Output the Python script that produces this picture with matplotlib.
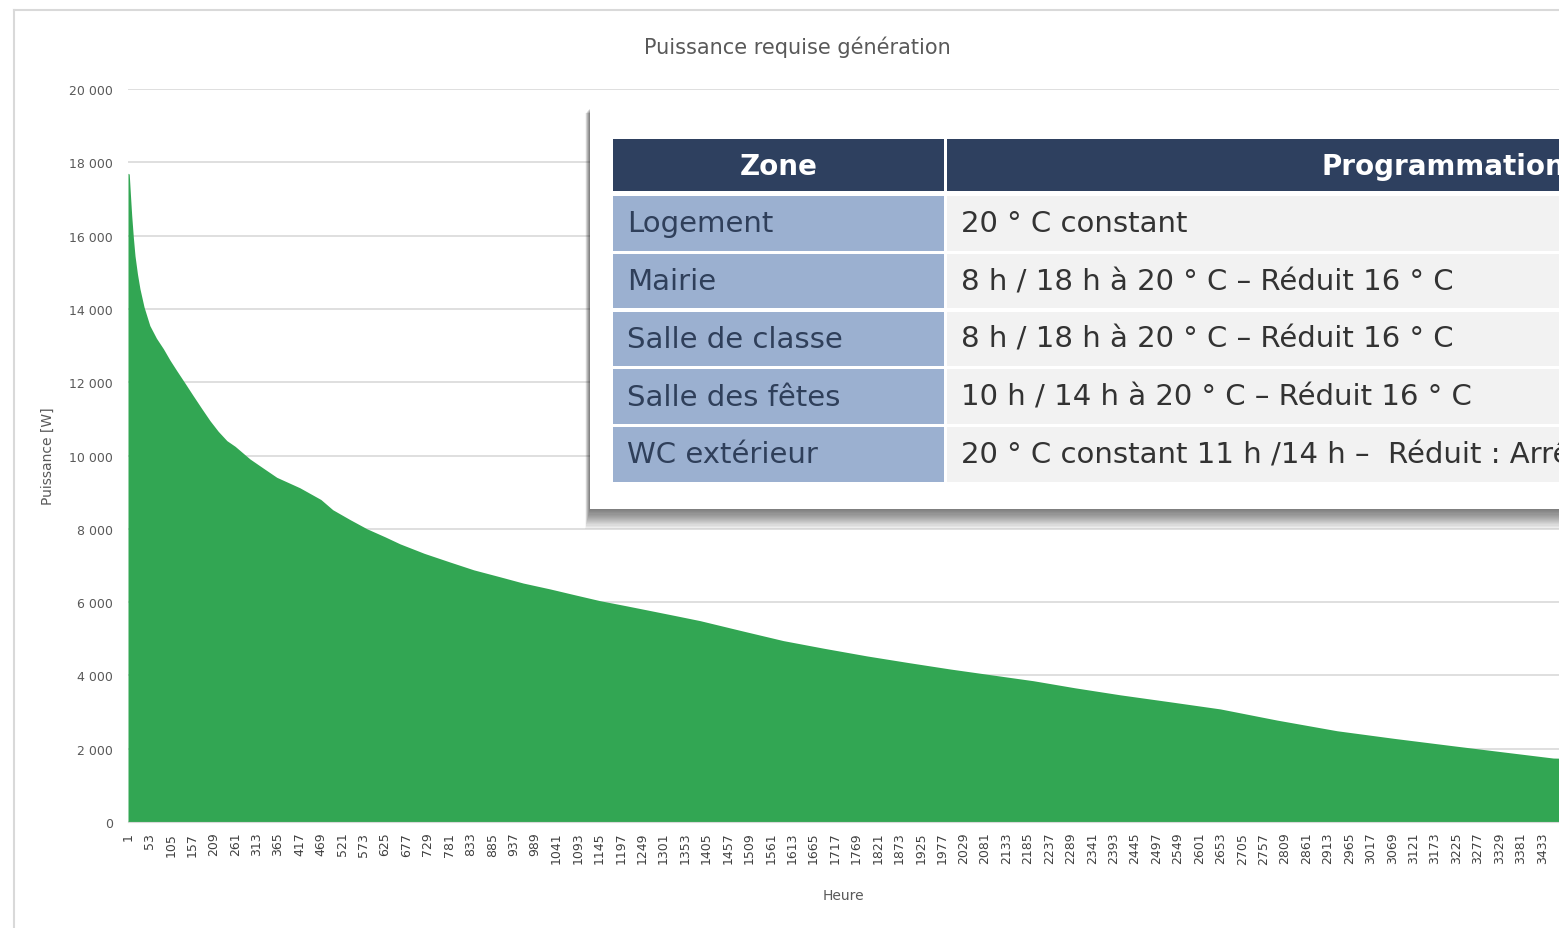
import matplotlib.pyplot as plt
from matplotlib.patches import Rectangle

# Load duration curve (hour rank -> W)
hours = [1, 4, 7, 10, 14, 18, 24, 30, 40, 54, 70, 87, 103, 119, 139, 159, 180,
         200, 220, 241, 261, 297, 330, 362, 418, 469, 498, 540, 581, 625, 661,
         720, 782, 840, 904, 960, 1025, 1085, 1146, 1210, 1268, 1330, 1389,
         1490, 1591, 1690, 1795, 1895, 1996, 2100, 2198, 2300, 2409, 2530,
         2652, 2790, 2935, 3075, 3217, 3340, 3460, 3480]
power = [17700, 17680, 17100, 16550, 15950, 15450, 14950, 14550, 14050, 13545,
         13200, 12910, 12600, 12320, 11980, 11635, 11280, 10950, 10660, 10405,
         10250, 9905, 9650, 9405, 9120, 8800, 8520, 8250, 8000, 7780, 7590,
         7330, 7095, 6880, 6690, 6520, 6360, 6200, 6040, 5900, 5770, 5630,
         5495, 5220, 4950, 4740, 4530, 4350, 4175, 4010, 3855, 3660, 3470,
         3280, 3085, 2780, 2490, 2280, 2080, 1910, 1745, 1740]

x_ticks = list(range(1, 3434, 52))
y_ticks = [0, 2000, 4000, 6000, 8000, 10000, 12000, 14000, 16000, 18000, 20000]

# table overlaid on the chart
zones = ["Logement", "Mairie", "Salle de classe", "Salle des fêtes", "WC extérieur"]
programmes = ["20 ° C constant",
              "8 h / 18 h à 20 ° C – Réduit 16 ° C",
              "8 h / 18 h à 20 ° C – Réduit 16 ° C",
              "10 h / 14 h à 20 ° C – Réduit 16 ° C",
              "20 ° C constant 11 h /14 h –  Réduit : Arrêt"]

W, H = 1559, 929
fig = plt.figure(figsize=(W / 100, H / 100), dpi=100)
fig.patch.set_facecolor("white")

grey = "#595959"
green = "#32a653"

ax = fig.add_axes([128 / W, 1 - 823 / H, 1 - 128 / W, (823 - 90) / H])
ax.fill_between(hours, power, 0, color=green, lw=0, zorder=2)
ax.set_xlim(1, 3474)
ax.set_ylim(0, 20000)
ax.set_yticks(y_ticks)
ax.set_yticklabels([f"{v:,}".replace(",", " ") for v in y_ticks], fontsize=9, color=grey)
ax.set_xticks(x_ticks)
ax.set_xticklabels([str(t) for t in x_ticks], rotation=90, fontsize=9, color="#404040")
ax.tick_params(axis="both", length=0)
ax.tick_params(axis="y", pad=11)
ax.tick_params(axis="x", pad=7)
ax.grid(axis="y", color="#d9d9d9", lw=1.2, zorder=1)
ax.set_axisbelow(True)
for s in ["top", "right", "left"]:
    ax.spines[s].set_visible(False)
ax.spines["bottom"].set_color("#d9d9d9")
ax.set_ylabel("Puissance [W]", fontsize=10, color=grey)
ax.yaxis.set_label_coords(-(128 - 55) / (W - 128), 0.5)
ax.set_xlabel("Heure", fontsize=10, color=grey)
ax.xaxis.set_label_coords((843 - 128) / (W - 128), -(889 - 823) / (823 - 90))
fig.text(797 / W, 1 - 47 / H, "Puissance requise génération", fontsize=15,
         color=grey, ha="center", va="center")

# overlay in pixel coordinates for frame and table
ov = fig.add_axes([0, 0, 1, 1], zorder=5)
ov.set_xlim(0, W)
ov.set_ylim(H, 0)
ov.axis("off")
ov.patch.set_alpha(0)

ov.plot([14, 14], [11, H + 10], color="#d9d9d9", lw=1.5)
ov.plot([14, W + 10], [11, 11], color="#d9d9d9", lw=1.5)

# soft box shadow
bx0, by0, by1 = 590, 105, 510
for i in range(1, 19):
    ov.add_patch(Rectangle((bx0 - i * 0.25, by0 + 4 + i * 0.3), 2000, by1 - by0 - 4 + i * 0.8,
                           facecolor="black", alpha=0.035, lw=0))
ov.add_patch(Rectangle((bx0, by0), 2000, by1 - by0, facecolor="white", lw=0))

navy = "#2e405f"
c1x0, c1x1, c2x0, c2x1 = 613, 944, 947, 1971
ov.add_patch(Rectangle((c1x0, 140), c1x1 - c1x0, 52, facecolor=navy, lw=0))
ov.add_patch(Rectangle((c2x0, 140), c2x1 - c2x0, 52, facecolor=navy, lw=0))
ov.text((c1x0 + c1x1) / 2, 167, "Zone", color="white", fontsize=20, fontweight="bold",
        ha="center", va="center")
ov.text(1322, 167, "Programmation", color="white", fontsize=20,
        fontweight="bold", ha="left", va="center")

row_h = 54.5
gap = 3.3
for i, (z, p) in enumerate(zip(zones, programmes)):
    y0 = 197 + i * (row_h + gap)
    ov.add_patch(Rectangle((c1x0, y0), c1x1 - c1x0, row_h, facecolor="#9bb0d0", lw=0))
    ov.add_patch(Rectangle((c2x0, y0), c2x1 - c2x0, row_h, facecolor="#f2f2f2", lw=0))
    ov.text(c1x0 + 14, y0 + row_h / 2, z, color="#2f3f5a", fontsize=21,
            ha="left", va="center")
    ov.text(c2x0 + 14, y0 + row_h / 2, p, color="#333333", fontsize=21,
            ha="left", va="center")

fig.savefig("out.png", dpi=100)
